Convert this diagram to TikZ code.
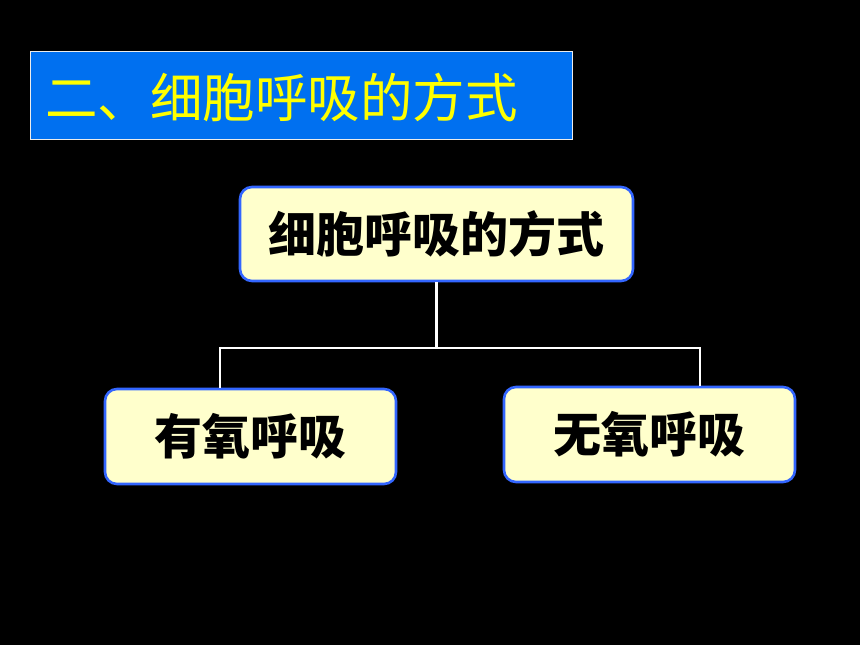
\documentclass[tikz,border=0pt]{standalone}
\usepackage{fontspec}
\newfontfamily\cjk{Noto Sans CJK SC}
\definecolor{titleblue}{RGB}{0,112,240}
\definecolor{nodefill}{RGB}{255,255,204}
\definecolor{nodeborder}{RGB}{51,102,255}
\definecolor{titleyellow}{RGB}{255,255,0}
\tikzset{
  titlebox/.style={draw=white!85!gray, line width=1.2pt, fill=titleblue},
  conceptbox/.style={draw=nodeborder, line width=2.6pt, fill=nodefill, rounded corners=12pt,
    inner sep=0pt, font=\cjk\bfseries\fontsize{48}{52}\selectfont, text=black},
  link/.style={draw=white, line width=2.8pt}
}
\begin{document}
\begin{tikzpicture}[x=1pt,y=-1pt]
\useasboundingbox[fill=black] (0,0) rectangle (860,645);
% title
\node[titlebox, minimum width=542pt, minimum height=88pt, anchor=north west, inner sep=0pt] (title) at (30,51) {};
\node[anchor=west, inner sep=0pt, text=titleyellow, font=\cjk\fontsize{52.5}{56}\selectfont] (titletext) at (45,97) {二、细胞呼吸的方式};
% nodes
\node[conceptbox, minimum width=393pt, minimum height=94pt] (top) at (436.5,234) {细胞呼吸的方式};
\node[conceptbox, minimum width=291pt, minimum height=95pt] (left) at (250.5,436.5) {有氧呼吸};
\node[conceptbox, minimum width=291pt, minimum height=95pt] (right) at (649.5,434.5) {无氧呼吸};
% connectors
\coordinate (jl) at (220,348);
\coordinate (jr) at (700,348);
\draw[link] (top.south) -- (top.south |- jl);
\draw[link, line cap=rect] (jl) -- (jr);
\draw[link] (jl) -- (jl |- left.north);
\draw[link] (jr) -- (jr |- right.north);
\end{tikzpicture}
\end{document}
